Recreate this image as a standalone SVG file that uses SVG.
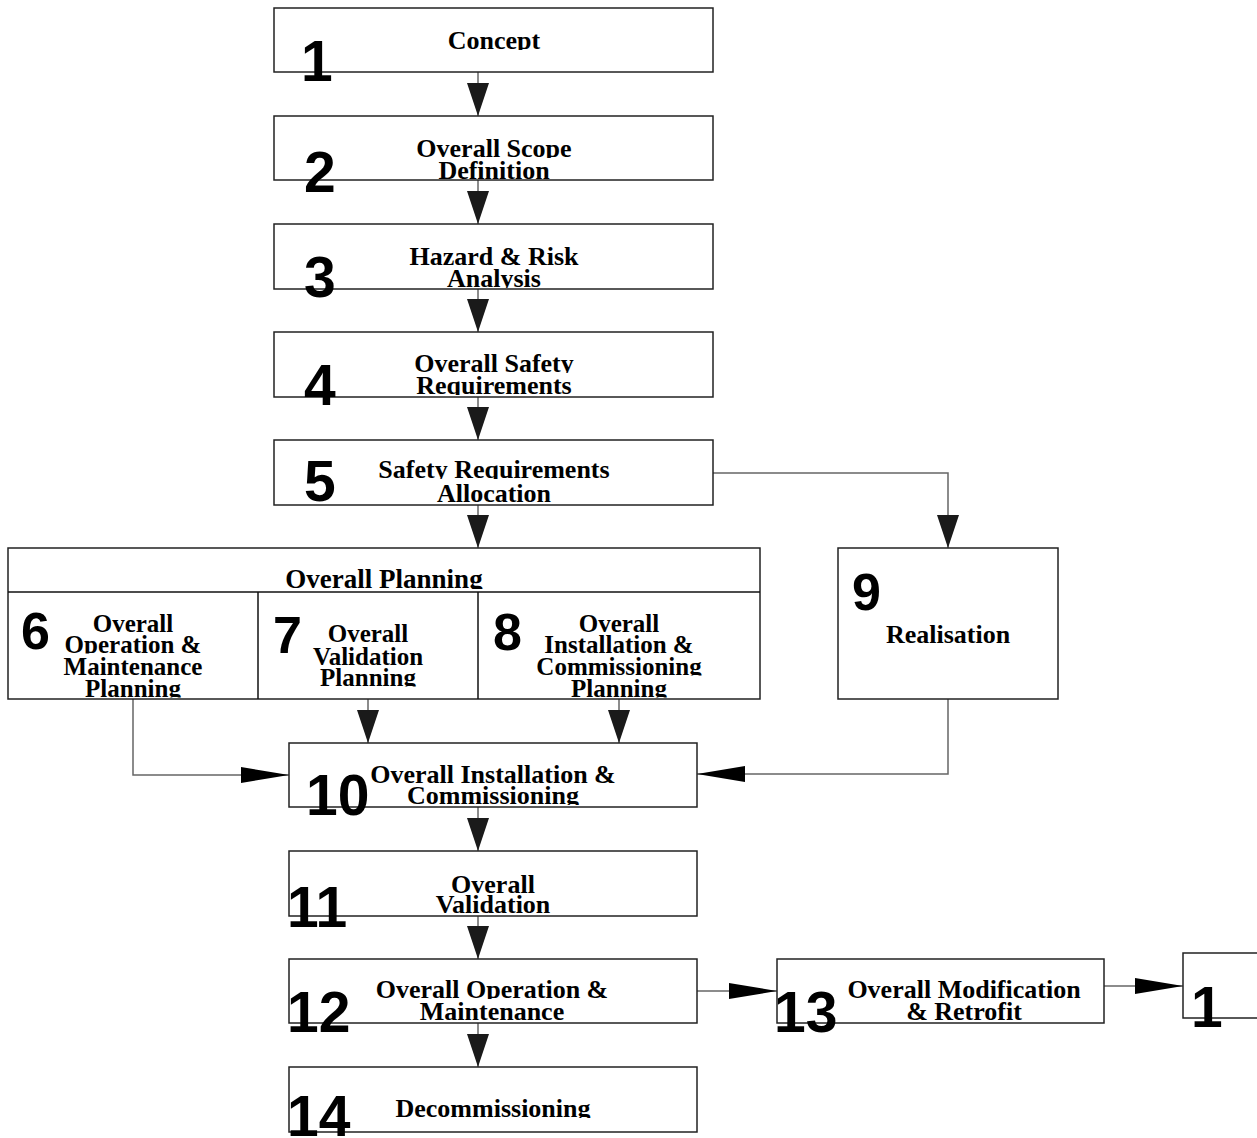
<svg xmlns="http://www.w3.org/2000/svg" width="1257" height="1138" viewBox="0 0 1257 1138">
<style>
.box{fill:#fff;stroke:#222;stroke-width:1.5}
.div{fill:none;stroke:#111;stroke-width:1.5}
.con{fill:none;stroke:#666;stroke-width:1.5}
.t,.tp{font-family:"Liberation Serif","Times New Roman",serif;font-weight:bold;fill:#000;text-anchor:middle;clip-path:url(#cut)}
.t{font-size:26px}
.tp{font-size:25px}
.n{font-family:"Liberation Sans",Arial,sans-serif;font-weight:bold;font-size:57px;fill:#000}
.ns{font-family:"Liberation Sans",Arial,sans-serif;font-weight:bold;font-size:52px;fill:#000}
</style>
<defs>
<clipPath id="cut" clipPathUnits="objectBoundingBox">
<rect x="-0.05" y="0" width="1.1" height="0.83"/>
</clipPath>
<marker id="av" markerUnits="userSpaceOnUse" markerWidth="33" markerHeight="22" refX="33" refY="11" orient="auto" viewBox="0 0 33 22">
<path d="M0,0 L33,11 L0,22 z" fill="#1a1a1a"/>
</marker>
<marker id="ah" markerUnits="userSpaceOnUse" markerWidth="48" markerHeight="16" refX="48" refY="8" orient="auto" viewBox="0 0 48 16">
<path d="M0,0 L48,8 L0,16 z" fill="#000"/>
</marker>
</defs>
<rect width="1257" height="1138" fill="#fff"/>
<g id="connectors">
<line class="con" x1="478" y1="72" x2="478" y2="116" marker-end="url(#av)"/>
<line class="con" x1="478" y1="180" x2="478" y2="224" marker-end="url(#av)"/>
<line class="con" x1="478" y1="289" x2="478" y2="332" marker-end="url(#av)"/>
<line class="con" x1="478" y1="397" x2="478" y2="440" marker-end="url(#av)"/>
<line class="con" x1="478" y1="505" x2="478" y2="548" marker-end="url(#av)"/>
<polyline class="con" points="713,473 948,473 948,548" marker-end="url(#av)"/>
<line class="con" x1="368" y1="699" x2="368" y2="743" marker-end="url(#av)"/>
<line class="con" x1="619" y1="699" x2="619" y2="743" marker-end="url(#av)"/>
<polyline class="con" points="133,699 133,775 289,775" marker-end="url(#ah)"/>
<polyline class="con" points="948,699 948,774 697,774" marker-end="url(#ah)"/>
<line class="con" x1="478" y1="807" x2="478" y2="851" marker-end="url(#av)"/>
<line class="con" x1="478" y1="916" x2="478" y2="959" marker-end="url(#av)"/>
<line class="con" x1="478" y1="1023" x2="478" y2="1067" marker-end="url(#av)"/>
<line class="con" x1="697" y1="991" x2="777" y2="991" marker-end="url(#ah)"/>
<line class="con" x1="1104" y1="986" x2="1183" y2="986" marker-end="url(#ah)"/>
</g>
<g id="node1">
<rect class="box" x="274" y="8" width="439" height="64"/>
<text class="t" x="494" y="49">Concept</text>
<text class="n" x="301" y="81">1</text>
</g>
<g id="node2">
<rect class="box" x="274" y="116" width="439" height="64"/>
<text class="t" x="494" y="157">Overall Scope</text>
<text class="t" x="494" y="179">Definition</text>
<text class="n" x="304" y="192">2</text>
</g>
<g id="node3">
<rect class="box" x="274" y="224" width="439" height="65"/>
<text class="t" x="494" y="265">Hazard &amp; Risk</text>
<text class="t" x="494" y="287">Analysis</text>
<text class="n" x="304" y="297">3</text>
</g>
<g id="node4">
<rect class="box" x="274" y="332" width="439" height="65"/>
<text class="t" x="494" y="372">Overall Safety</text>
<text class="t" x="494" y="394">Requirements</text>
<text class="n" x="304" y="405">4</text>
</g>
<g id="node5">
<rect class="box" x="274" y="440" width="439" height="65"/>
<text class="t" x="494" y="478">Safety Requirements</text>
<text class="t" x="494" y="502">Allocation</text>
<text class="n" x="304" y="501">5</text>
</g>
<g id="planning">
<rect class="box" x="8" y="548" width="752" height="151" stroke="#111"/>
<line class="div" x1="8" y1="592" x2="760" y2="592"/>
<text class="t" x="384" y="588" style="font-size:27px">Overall Planning</text>
</g>
<g id="node6">
<line class="div" x1="258" y1="592" x2="258" y2="699"/>
<text class="ns" x="21" y="649">6</text>
<text class="tp" x="133" y="632">Overall</text>
<text class="tp" x="133" y="653">Operation &amp;</text>
<text class="tp" x="133" y="675">Maintenance</text>
<text class="tp" x="133" y="697">Planning</text>
</g>
<g id="node7">
<line class="div" x1="478" y1="592" x2="478" y2="699"/>
<text class="ns" x="273" y="653">7</text>
<text class="tp" x="368" y="642">Overall</text>
<text class="tp" x="368" y="665">Validation</text>
<text class="tp" x="368" y="686">Planning</text>
</g>
<g id="node8">
<text class="ns" x="493" y="650">8</text>
<text class="tp" x="619" y="632">Overall</text>
<text class="tp" x="619" y="653">Installation &amp;</text>
<text class="tp" x="619" y="675">Commissioning</text>
<text class="tp" x="619" y="697">Planning</text>
</g>
<g id="node9">
<rect class="box" x="838" y="548" width="220" height="151"/>
<text class="ns" x="852" y="610">9</text>
<text class="t" x="948" y="643">Realisation</text>
</g>
<g id="node10">
<rect class="box" x="289" y="743" width="408" height="64"/>
<text class="t" x="493" y="783">Overall Installation &amp;</text>
<text class="t" x="493" y="804">Commissioning</text>
<text class="n" x="306" y="815">10</text>
</g>
<g id="node11">
<rect class="box" x="289" y="851" width="408" height="65"/>
<text class="t" x="493" y="893">Overall</text>
<text class="t" x="493" y="913">Validation</text>
<text class="n" x="287" y="927">11</text>
</g>
<g id="node12">
<rect class="box" x="289" y="959" width="408" height="64"/>
<text class="t" x="492" y="998">Overall Operation &amp;</text>
<text class="t" x="492" y="1020">Maintenance</text>
<text class="n" x="287" y="1032">12</text>
</g>
<g id="node13">
<rect class="box" x="777" y="959" width="327" height="64"/>
<text class="t" x="964" y="998">Overall Modification</text>
<text class="t" x="964" y="1020">&amp; Retrofit</text>
<text class="n" x="774" y="1032">13</text>
</g>
<g id="node1b">
<rect class="box" x="1183" y="953" width="90" height="65"/>
<text class="n" x="1191" y="1027">1</text>
</g>
<g id="node14">
<rect class="box" x="289" y="1067" width="408" height="65"/>
<text class="t" x="493" y="1117">Decommissioning</text>
<text class="n" x="287" y="1136">14</text>
</g>
</svg>
